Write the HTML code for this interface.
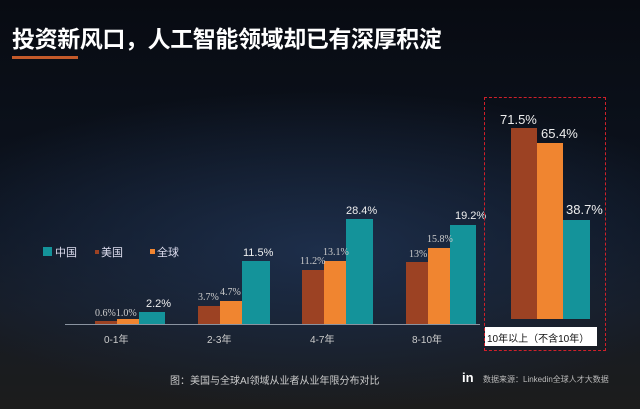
<!DOCTYPE html>
<html><head><meta charset="utf-8"><style>
body{margin:0;width:640px;height:409px;overflow:hidden;background:#0a0e16;font-family:"Liberation Sans","Noto Sans CJK SC",sans-serif}
#bg{position:absolute;left:0;top:0;width:640px;height:409px;background:radial-gradient(ellipse 420px 160px at 320px 250px,#1d2e4a 0%,rgba(10,14,22,0) 100%),linear-gradient(#080b12 0%,#0d1420 55%,#161b24 75%,#1c1c1c 100%)}
.t{position:absolute;white-space:nowrap}
.b{position:absolute}
</style></head><body><div id="bg"></div>
<div class="t" style="left:12px;top:20px;font-size:23px;font-weight:bold;color:#fff;letter-spacing:-0.4px">投资新风口，人工智能领域却已有深厚积淀</div>
<div class="b" style="left:12px;top:56px;width:66px;height:3px;background:#c45a2a"></div>
<div class="b" style="left:65px;top:324px;width:415px;height:1px;background:#8a93a0"></div>
<!-- legend -->
<div class="b" style="left:43px;top:247px;width:9px;height:9px;background:#14939a"></div>
<div class="t" style="left:55px;top:244px;font-size:11px;color:#dde">中国</div>
<div class="b" style="left:95px;top:250px;width:4px;height:4px;background:#9c4223"></div>
<div class="t" style="left:101px;top:244px;font-size:11px;color:#dde">美国</div>
<div class="b" style="left:150px;top:249px;width:5px;height:5px;background:#f08530"></div>
<div class="t" style="left:157px;top:244px;font-size:11px;color:#dde">全球</div>
<!-- group1 -->
<div class="b" style="left:95px;top:321px;width:22px;height:3px;background:#9c4223"></div>
<div class="b" style="left:117px;top:319px;width:22px;height:5px;background:#f08530"></div>
<div class="b" style="left:139px;top:312px;width:26px;height:12px;background:#14939a"></div>
<div class="t" style="left:95px;top:308px;font-size:10px;color:#ccc;font-family:'Liberation Serif','Noto Serif CJK SC',serif">0.6%1.0%</div>
<div class="t" style="left:146px;top:298px;font-size:11px;color:#eee">2.2%</div>
<div class="t" style="left:104px;top:331px;font-size:10px;color:#ccc">0-1年</div>
<!-- group2 -->
<div class="b" style="left:198px;top:306px;width:22px;height:18px;background:#9c4223"></div>
<div class="b" style="left:220px;top:301px;width:22px;height:23px;background:#f08530"></div>
<div class="b" style="left:242px;top:261px;width:28px;height:63px;background:#14939a"></div>
<div class="t" style="left:198px;top:292px;font-size:10px;color:#ccc;font-family:'Liberation Serif',serif">3.7%</div>
<div class="t" style="left:220px;top:287px;font-size:10px;color:#ccc;font-family:'Liberation Serif',serif">4.7%</div>
<div class="t" style="left:243px;top:247px;font-size:11px;color:#eee">11.5%</div>
<div class="t" style="left:207px;top:331px;font-size:10px;color:#ccc">2-3年</div>
<!-- group3 -->
<div class="b" style="left:302px;top:270px;width:22px;height:54px;background:#9c4223"></div>
<div class="b" style="left:324px;top:261px;width:22px;height:63px;background:#f08530"></div>
<div class="b" style="left:346px;top:219px;width:27px;height:105px;background:#14939a"></div>
<div class="t" style="left:300px;top:256px;font-size:10px;color:#ccc;font-family:'Liberation Serif',serif">11.2%</div>
<div class="t" style="left:323px;top:247px;font-size:10px;color:#ccc;font-family:'Liberation Serif',serif">13.1%</div>
<div class="t" style="left:346px;top:205px;font-size:11px;color:#eee">28.4%</div>
<div class="t" style="left:310px;top:331px;font-size:10px;color:#ccc">4-7年</div>
<!-- group4 -->
<div class="b" style="left:406px;top:262px;width:22px;height:62px;background:#9c4223"></div>
<div class="b" style="left:428px;top:248px;width:22px;height:76px;background:#f08530"></div>
<div class="b" style="left:450px;top:225px;width:26px;height:99px;background:#14939a"></div>
<div class="t" style="left:409px;top:249px;font-size:10px;color:#ccc;font-family:'Liberation Serif',serif">13%</div>
<div class="t" style="left:427px;top:234px;font-size:10px;color:#ccc;font-family:'Liberation Serif',serif">15.8%</div>
<div class="t" style="left:455px;top:210px;font-size:11px;color:#eee">19.2%</div>
<div class="t" style="left:412px;top:331px;font-size:10px;color:#ccc">8-10年</div>
<!-- group5 -->
<div class="b" style="left:484px;top:97px;width:122px;height:254px;border:1px dashed #d0202a;box-sizing:border-box"></div>
<div class="b" style="left:511px;top:128px;width:26px;height:191px;background:#9c4223"></div>
<div class="b" style="left:537px;top:143px;width:26px;height:176px;background:#f08530"></div>
<div class="b" style="left:563px;top:220px;width:27px;height:99px;background:#14939a"></div>
<div class="t" style="left:500px;top:112px;font-size:13px;color:#eee">71.5%</div>
<div class="t" style="left:541px;top:126px;font-size:13px;color:#eee">65.4%</div>
<div class="t" style="left:566px;top:202px;font-size:13px;color:#eee">38.7%</div>
<div class="b" style="left:485px;top:327px;width:112px;height:19px;background:#fff"></div>
<div class="t" style="left:487px;top:330px;font-size:10px;color:#111">10年以上（不含10年）</div>
<!-- caption -->
<div class="t" style="left:170px;top:372px;font-size:10px;color:#ccc">图：美国与全球AI领域从业者从业年限分布对比</div>
<div class="t" style="left:462px;top:370px;font-size:13px;font-weight:bold;color:#fff">in</div>
<div class="t" style="left:483px;top:374px;font-size:8px;color:#bbb">数据来源：Linkedin全球人才大数据</div>
</body></html>
